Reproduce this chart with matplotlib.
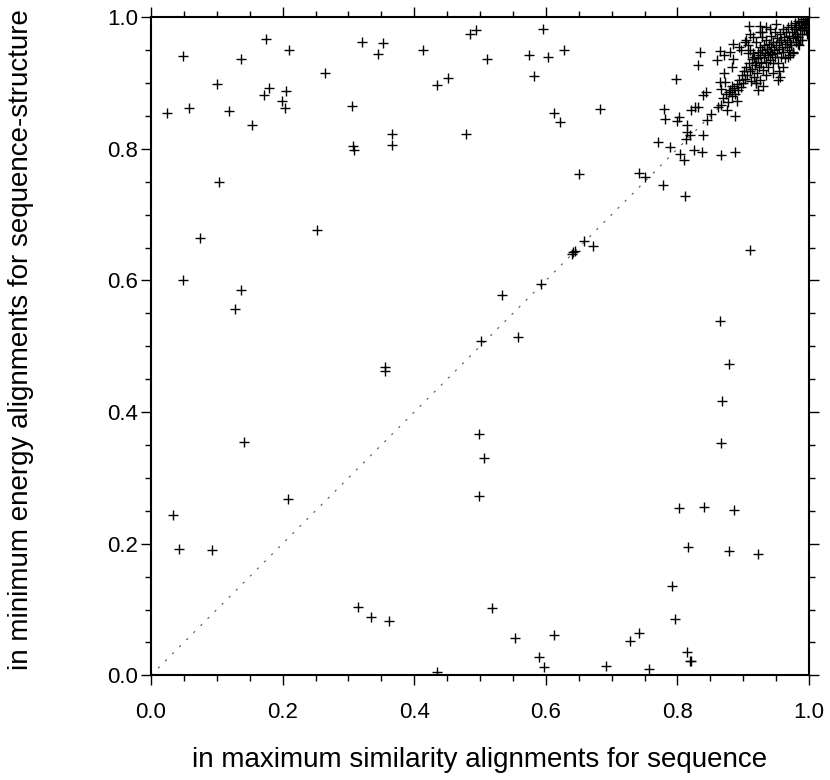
import matplotlib
matplotlib.use("Agg")
import matplotlib.pyplot as plt
from matplotlib.ticker import MultipleLocator

plt.rcParams['font.family'] = ['Liberation Sans', 'DejaVu Sans']

# scattered points (x = sequence, y = sequence-structure)
x_sparse = [0.175, 0.048, 0.209, 0.320, 0.137, 0.265, 0.101, 0.179, 0.172, 0.205,
            0.199, 0.203, 0.025, 0.057, 0.119, 0.306, 0.153, 0.307, 0.309, 0.103,
            0.252, 0.074, 0.352, 0.345, 0.414, 0.485, 0.494, 0.596, 0.510, 0.575,
            0.604, 0.628, 0.582, 0.452, 0.435, 0.613, 0.622, 0.366, 0.366, 0.478,
            0.650, 0.682, 0.798, 0.779, 0.781, 0.799, 0.803, 0.771, 0.788, 0.804,
            0.810, 0.741, 0.751, 0.778, 0.811, 0.814, 0.814, 0.813, 0.819, 0.825,
            0.837, 0.839, 0.866, 0.888, 0.821, 0.827, 0.832, 0.845, 0.851, 0.862,
            0.867, 0.875, 0.888, 0.891, 0.839, 0.843, 0.832, 0.834, 0.865, 0.860,
            0.871, 0.885, 0.883, 0.871, 0.865, 0.872, 0.867, 0.879, 0.883, 0.909,
            0.926, 0.928, 0.953, 0.956, 0.919, 0.923, 0.930, 0.971, 0.984, 0.995,
            0.049, 0.137, 0.127, 0.141, 0.658, 0.644, 0.640, 0.642, 0.593, 0.534,
            0.502, 0.557, 0.356, 0.356, 0.499, 0.506, 0.672, 0.911, 0.864, 0.879,
            0.868, 0.866, 0.034, 0.043, 0.092, 0.208, 0.314, 0.499, 0.335, 0.362,
            0.518, 0.553, 0.612, 0.590, 0.598, 0.434, 0.802, 0.840, 0.886, 0.816,
            0.878, 0.922, 0.792, 0.796, 0.741, 0.728, 0.691, 0.757, 0.815, 0.819,
            0.821]
y_sparse = [0.967, 0.941, 0.950, 0.962, 0.936, 0.915, 0.898, 0.893, 0.882, 0.888,
            0.873, 0.862, 0.855, 0.862, 0.858, 0.865, 0.837, 0.805, 0.798, 0.749,
            0.677, 0.664, 0.961, 0.944, 0.950, 0.974, 0.980, 0.982, 0.937, 0.943,
            0.939, 0.950, 0.911, 0.908, 0.897, 0.855, 0.841, 0.823, 0.806, 0.822,
            0.762, 0.860, 0.906, 0.860, 0.845, 0.842, 0.848, 0.810, 0.803, 0.793,
            0.783, 0.764, 0.757, 0.745, 0.728, 0.836, 0.826, 0.815, 0.821, 0.798,
            0.796, 0.821, 0.791, 0.796, 0.859, 0.864, 0.864, 0.844, 0.853, 0.864,
            0.867, 0.859, 0.850, 0.873, 0.882, 0.887, 0.928, 0.948, 0.949, 0.935,
            0.943, 0.936, 0.924, 0.916, 0.902, 0.901, 0.891, 0.887, 0.895, 0.987,
            0.987, 0.978, 0.904, 0.909, 0.900, 0.889, 0.896, 0.943, 0.960, 0.981,
            0.600, 0.586, 0.556, 0.355, 0.660, 0.645, 0.641, 0.643, 0.594, 0.578,
            0.508, 0.514, 0.468, 0.463, 0.366, 0.331, 0.652, 0.646, 0.539, 0.473,
            0.417, 0.353, 0.244, 0.192, 0.190, 0.268, 0.104, 0.272, 0.088, 0.082,
            0.103, 0.057, 0.061, 0.028, 0.012, 0.005, 0.255, 0.256, 0.251, 0.195,
            0.189, 0.184, 0.136, 0.086, 0.065, 0.052, 0.014, 0.010, 0.035, 0.022,
            0.021]

# dense cluster near (1, 1)
x_cluster = [0.870, 0.874, 0.877, 0.880, 0.883, 0.886, 0.888, 0.890, 0.892, 0.894,
             0.896, 0.898, 0.899, 0.901, 0.902, 0.904, 0.905, 0.906, 0.908, 0.909,
             0.910, 0.911, 0.912, 0.913, 0.914, 0.915, 0.916, 0.917, 0.918, 0.919,
             0.920, 0.921, 0.922, 0.923, 0.924, 0.925, 0.926, 0.927, 0.928, 0.929,
             0.930, 0.931, 0.932, 0.933, 0.934, 0.935, 0.936, 0.937, 0.938, 0.939,
             0.940, 0.941, 0.942, 0.943, 0.944, 0.945, 0.946, 0.947, 0.948, 0.949,
             0.950, 0.951, 0.952, 0.953, 0.954, 0.955, 0.956, 0.957, 0.958, 0.959,
             0.960, 0.961, 0.962, 0.963, 0.964, 0.965, 0.966, 0.967, 0.968, 0.969,
             0.970, 0.971, 0.972, 0.973, 0.974, 0.975, 0.976, 0.977, 0.978, 0.979,
             0.980, 0.981, 0.982, 0.983, 0.984, 0.985, 0.986, 0.987, 0.988, 0.989,
             0.990, 0.991, 0.992, 0.993, 0.994, 0.995, 0.996, 0.997, 0.998, 0.999,
             1.000, 0.997, 0.960, 0.955, 0.945, 0.968, 0.985, 0.990, 0.975, 0.920,
             0.925, 0.935, 0.910, 0.915, 0.925, 0.935, 0.950, 0.940, 0.893, 0.897,
             0.903, 0.907, 0.885, 0.880]
y_cluster = [0.878, 0.884, 0.872, 0.889, 0.880, 0.893, 0.884, 0.899, 0.889, 0.905,
             0.894, 0.912, 0.900, 0.918, 0.906, 0.965, 0.925, 0.912, 0.958, 0.930,
             0.918, 0.950, 0.903, 0.936, 0.922, 0.945, 0.910, 0.940, 0.928, 0.962,
             0.932, 0.915, 0.948, 0.938, 0.925, 0.955, 0.943, 0.930, 0.970, 0.950,
             0.920, 0.940, 0.958, 0.946, 0.932, 0.965, 0.952, 0.925, 0.942, 0.960,
             0.948, 0.935, 0.972, 0.955, 0.944, 0.930, 0.962, 0.950, 0.978, 0.940,
             0.958, 0.968, 0.946, 0.930, 0.962, 0.952, 0.975, 0.940, 0.966, 0.955,
             0.982, 0.948, 0.970, 0.960, 0.938, 0.978, 0.955, 0.966, 0.985, 0.950,
             0.972, 0.962, 0.988, 0.958, 0.978, 0.968, 0.948, 0.982, 0.972, 0.992,
             0.962, 0.985, 0.975, 0.995, 0.970, 0.988, 0.980, 0.965, 0.993, 0.984,
             0.975, 0.997, 0.988, 0.980, 0.995, 0.990, 0.985, 0.998, 0.993, 1.000,
             0.997, 0.975, 0.925, 0.918, 0.915, 0.940, 0.958, 0.965, 0.945, 0.900,
             0.905, 0.912, 0.975, 0.970, 0.978, 0.985, 0.990, 0.982, 0.955, 0.950,
             0.962, 0.945, 0.960, 0.948]

diag = [0.0, 1.0]

fig = plt.figure(figsize=(8.3, 7.8), dpi=100)
ax = fig.add_axes([151/830, 1 - 675.3/780, 658/830, 658/780])

ax.plot(diag, diag, linestyle=(0, (2, 7)), color='#555555', linewidth=0.8, zorder=1)
ax.plot(x_sparse + x_cluster, y_sparse + y_cluster, linestyle='none', marker='+',
        markersize=7, markeredgewidth=1.0, color='black', zorder=2)

ax.set_xlim(0, 1)
ax.set_ylim(0, 1)
ax.xaxis.set_major_locator(MultipleLocator(0.2))
ax.yaxis.set_major_locator(MultipleLocator(0.2))
ax.xaxis.set_minor_locator(MultipleLocator(0.05))
ax.yaxis.set_minor_locator(MultipleLocator(0.05))
ax.xaxis.set_major_formatter(plt.FormatStrFormatter('%.1f'))
ax.yaxis.set_major_formatter(plt.FormatStrFormatter('%.1f'))

for s in ax.spines.values():
    s.set_linewidth(1.5)

ax.tick_params(which='both', direction='out', top=True, right=True,
               labeltop=False, labelright=False, width=1.0, color='black')
ax.tick_params(which='major', length=7.5, labelsize=16)
ax.tick_params(which='minor', length=4.5)
ax.tick_params(axis='x', which='major', pad=12)
ax.tick_params(axis='y', which='major', pad=2)

ax.set_xlabel('in maximum similarity alignments for sequence', fontsize=20)
ax.set_ylabel('in minimum energy alignments for sequence-structure', fontsize=20)
ax.xaxis.set_label_coords(0.5, (675.3 - 767) / 658)
ax.yaxis.set_label_coords((21 - 151) / 658, (675.3 - 340) / 658)
ax.xaxis.label.set_va('baseline')
ax.yaxis.label.set_va('center')

fig.savefig('out.png', dpi=100)
